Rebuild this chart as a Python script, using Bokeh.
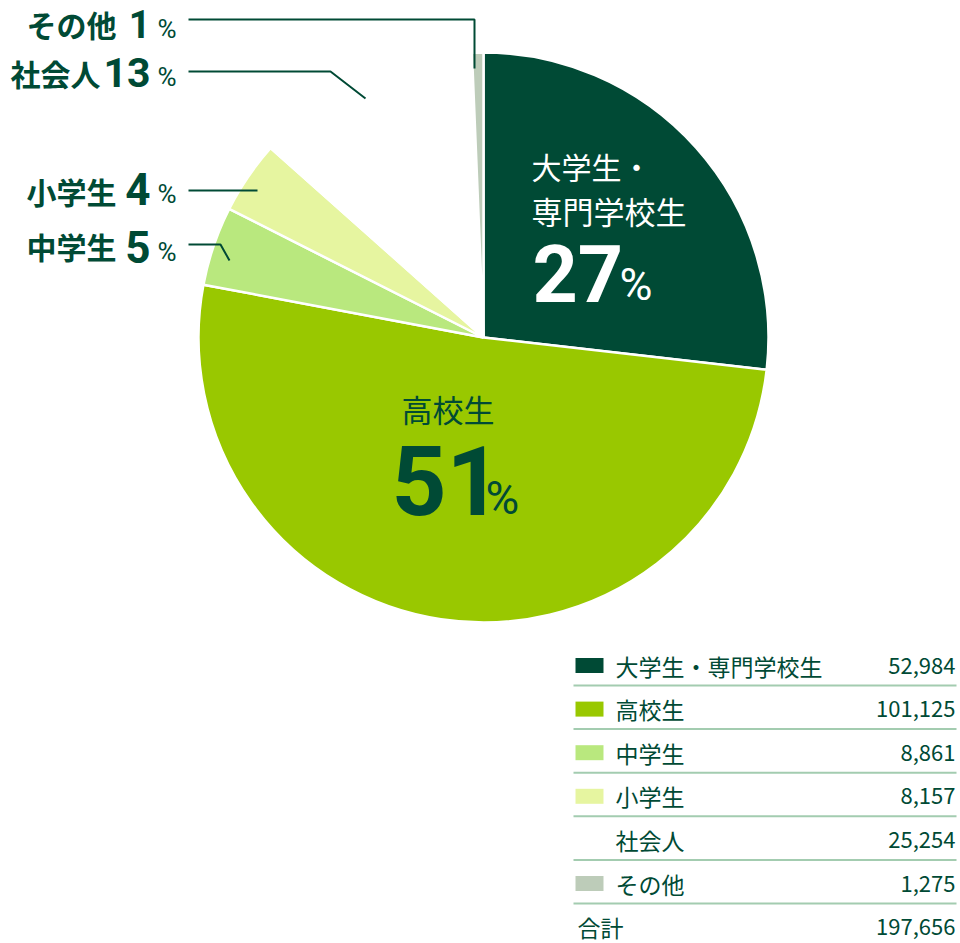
import numpy as np
from bokeh.plotting import figure
from bokeh.models import Range1d, ColumnDataSource
from bokeh.core.properties import value
from bokeh.embed import file_html
from bokeh.resources import INLINE

# ---- data ----
categories = ["大学生・専門学校生", "高校生", "中学生", "小学生", "社会人", "その他"]
counts = [52984, 101125, 8861, 8157, 25254, 1275]
percents = [27, 51, 5, 4, 13, 1]
colors = ["#004a35", "#99c800", "#b9e87e", "#e6f5a0", "#ffffff", "#bdccb9"]
total_label = "合計"

DARK = "#004a35"
JP = value("Noto Sans CJK JP")
NUM = value("Roboto")

W, H = 960, 943
p = figure(width=W, height=H, output_backend="svg", toolbar_location=None,
           x_range=Range1d(0, W), y_range=Range1d(-H, 0), min_border=0)
p.axis.visible = False
p.grid.visible = False
p.outline_line_color = None
p.background_fill_color = "white"
p.border_fill_color = "white"

# ---- pie ----
cx, cy, R = 483, -337, 285
frac = np.array(counts, dtype=float) / sum(counts)
cum = np.concatenate([[0.0], np.cumsum(frac)])
start = np.pi / 2 - cum[:-1] * 2 * np.pi
end = np.pi / 2 - cum[1:] * 2 * np.pi
src = ColumnDataSource(dict(start=start, end=end, color=colors, cat=categories))
p.wedge(x=cx, y=cy, radius=R, start_angle="start", end_angle="end",
        direction="clock", fill_color="color", line_color="white",
        line_width=2.5, source=src)


def txt(x, y, s, size, color=DARK, font=JP, style="normal", align="left"):
    p.text(x=[x], y=[-y], text=[s], text_font=font, text_font_size=size,
           text_font_style=style, text_color=color, text_align=align,
           text_baseline="middle")


# ---- inside labels ----
txt(531, 165, "大学生・", "30px", color="white")
txt(531, 210, "専門学校生", "31px", color="white")
txt(532, 273, str(percents[0]), "79px", color="white", font=NUM, style="bold")
txt(619, 284, "%", "45px", color="white", font=NUM)

txt(401, 408, categories[1], "31px")
txt(391, 480, str(percents[1]), "96px", font=NUM, style="bold")
txt(485, 497, "%", "46px", font=NUM)

# ---- outside labels ----
outside = [  # (index, text_right, text_center_y, number_center_y, number_size)
    (5, 116, 23.5, 23, "38px"),
    (4, 100, 72, 71.5, "41px"),
    (3, 116, 190, 188.5, "44px"),
    (2, 116, 245, 246, "44px"),
]
for idx, xr, ym, yn, ns in outside:
    txt(xr, ym, categories[idx], "30px", style="bold", align="right")
    txt(150, yn, str(percents[idx]), ns, font=NUM, style="bold", align="right")
    txt(176, yn + 5, "%", "26px", font=NUM, align="right")

# leader lines
leaders_x = [[188, 474, 474], [188, 330, 365], [188, 257], [188, 220, 229]]
leaders_y = [[19, 19, 68], [71, 71, 98], [190, 190], [244, 244, 260]]
p.multi_line(xs=leaders_x, ys=[[-v for v in ys] for ys in leaders_y],
             line_color=DARK, line_width=2)

# ---- legend table ----
row0, dy = 665, 43.6
for i, (c, n, col) in enumerate(zip(categories, counts, colors)):
    yc = row0 + i * dy
    p.quad(left=575, right=603, top=-(yc - 7.5), bottom=-(yc + 7.5),
           fill_color=col, line_color=None)
    txt(615, yc, c, "23px", align="left")
    txt(955, yc, f"{n:,}", "22px", align="right")
    ysep = yc + 20
    p.line(x=[573, 956], y=[-ysep, -ysep], line_color="#a3ccb0", line_width=2)

yt = row0 + len(categories) * dy
txt(577, yt, total_label, "23px", align="left")
txt(955, yt, f"{sum(counts):,}", "22px", align="right")

open("out.html", "w").write(file_html(p, INLINE))
